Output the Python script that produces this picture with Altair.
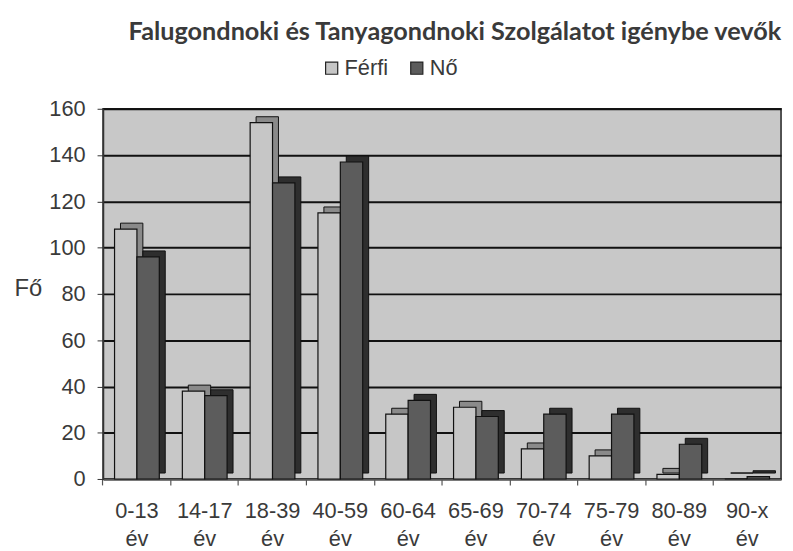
import altair as alt
import pandas as pd

groups = ["0-13 év", "14-17 év", "18-39 év", "40-59 év", "60-64 év",
          "65-69 év", "70-74 év", "75-79 év", "80-89 év", "90-x év"]
ferfi = [108, 38, 154, 115, 28, 31, 13, 10, 2, 0]
no = [96, 36, 128, 137, 34, 27, 28, 28, 15, 1]
series = ["Férfi", "Nő"]
front_colors = ["#c6c6c6", "#5c5c5c"]
side_colors = ["#8a8a8a", "#2e2e2e"]

rows = []
for g, f, n in zip(groups, ferfi, no):
    rows.append({"kor": g, "nem": "Férfi", "fo": f, "side": side_colors[0]})
    rows.append({"kor": g, "nem": "Nő", "fo": n, "side": side_colors[1]})
df = pd.DataFrame(rows)

W, H = 685, 374
P_IN, P_OUT = 0.34, 0.17
step = W / (len(groups) - P_IN + 2 * P_OUT)
bw = step * (1 - P_IN)
DEPTH = 6

x_scale = alt.Scale(paddingInner=P_IN, paddingOuter=P_OUT)
x_enc = alt.X("kor:N", sort=groups, title=None, scale=x_scale,
              axis=alt.Axis(orient="bottom", labelExpr="split(datum.label, ' ')",
                            labelAngle=0, labelFont="Liberation Sans", labelFontSize=22,
                            labelColor="#3a3a3a", labelLineHeight=28,
                            labelPadding=22, domainColor="#555555", domainWidth=1.5,
                            ticks=False))
x_ticks = alt.X("kor:N", sort=groups, title=None, scale=x_scale,
                axis=alt.Axis(orient="bottom", labels=False, domain=False, ticks=True,
                              tickColor="#555555", tickSize=6, tickWidth=1.2,
                              bandPosition=-P_OUT / (1 - P_IN)))
y_enc = alt.Y("fo:Q", title="Fő",
              scale=alt.Scale(domain=[0, 160], nice=False),
              axis=alt.Axis(values=list(range(0, 161, 20)), labelFont="Liberation Sans",
                            labelFontSize=22, labelColor="#3a3a3a", labelPadding=12,
                            tickColor="#333333", tickSize=6, domainColor="#333333",
                            domainWidth=1.5, gridColor="#111111", gridWidth=2,
                            titleAngle=0, titleFont="Liberation Sans", titleFontSize=24,
                            titleFontWeight="normal", titleColor="#3a3a3a",
                            titleAlign="left", titleBaseline="middle",
                            titleX=-90, titleY=182))

base = alt.Chart(df)
depth = base.mark_bar(yOffset=-DEPTH, stroke="#111111", strokeWidth=1).encode(
    x=x_ticks, y=y_enc,
    xOffset=alt.XOffset("nem:N", sort=series,
                        scale=alt.Scale(domain=series, range=[DEPTH, bw + DEPTH])),
    color=alt.Color("side:N", scale=None, legend=None),
)
front = base.mark_bar(stroke="#111111", strokeWidth=1.2).encode(
    x=x_enc, y=y_enc,
    xOffset=alt.XOffset("nem:N", sort=series, scale=alt.Scale(domain=series, range=[0, bw])),
    color=alt.Color("nem:N", sort=series,
                    scale=alt.Scale(domain=series, range=front_colors),
                    legend=alt.Legend(title=None, orient="none", direction="horizontal",
                                      legendX=220, legendY=-52, symbolType="square",
                                      symbolSize=150, symbolStrokeColor="#222222",
                                      symbolStrokeWidth=1.2, labelFont="Liberation Sans",
                                      labelFontSize=22, labelColor="#3a3a3a",
                                      columnPadding=18, labelOffset=2)),
)

chart = alt.layer(depth, front).resolve_scale(
    color="independent", xOffset="independent"
).resolve_axis(x="independent").properties(
    width=W, height=H,
    padding={"left": 96, "top": 99, "right": 4, "bottom": 75},
    autosize=alt.AutoSizeParams(type="none"),
    title=alt.TitleParams("Falugondnoki és Tanyagondnoki Szolgálatot igénybe vevők",
                          font="Lato", fontSize=25.5, fontWeight="bold", color="#3a3a3a",
                          anchor="middle", offset=12, dx=13),
).configure(background="white").configure_view(
    fill="#c8c8c8", stroke="#222222", strokeWidth=1.5
)

chart.save("out.html", embed_options={"renderer": "svg", "actions": False})
